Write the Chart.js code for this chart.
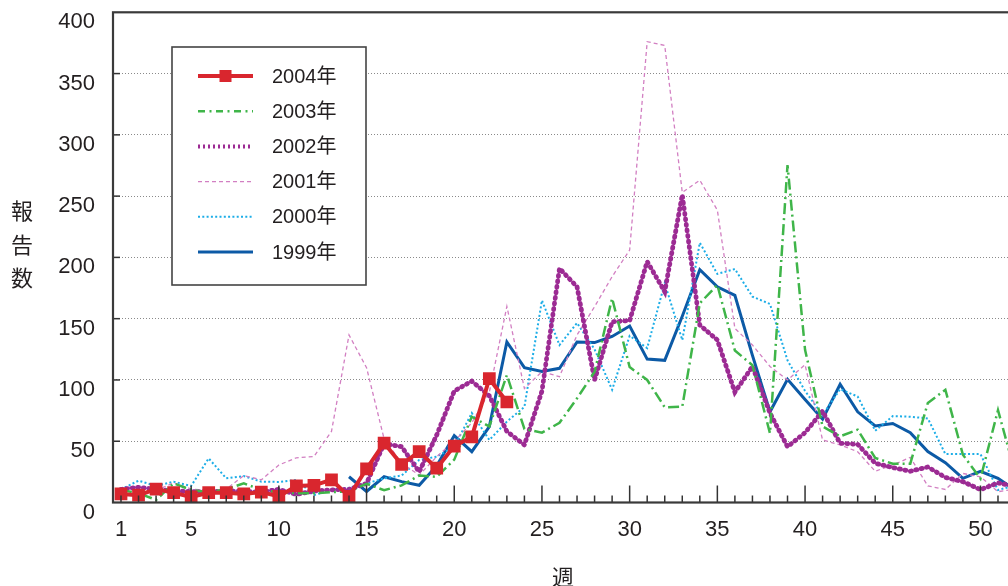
<!DOCTYPE html>
<html>
<head>
<meta charset="utf-8">
<script src="https://cdn.jsdelivr.net/npm/chart.js@4.4.1/dist/chart.umd.min.js"></script>
<style>
  html, body { margin: 0; padding: 0; background: #fff; overflow: hidden; }
  #marco { position: relative; width: 1008px; height: 586px; overflow: hidden; }
  #grafico { position: absolute; left: 0; top: 0; }
</style>
</head>
<body>
<div id="marco"><canvas id="grafico" width="1040" height="586"></canvas></div>
<script>
const semanas = [1,2,3,4,5,6,7,8,9,10,11,12,13,14,15,16,17,18,19,20,21,22,23,24,25,26,
                 27,28,29,30,31,32,33,34,35,36,37,38,39,40,41,42,43,44,45,46,47,48,49,50,51,52];
const ticksX = [1,5,10,15,20,25,30,35,40,45,50];
const ticksY = [0,50,100,150,200,250,300,350,400];
const anios = ['2004年','2003年','2002年','2001年','2000年','1999年'];

const v2004 = [7,6,11,8,4.5,8,8,7,8.5,5,13.5,14,18.5,5,27.5,48.5,31,41.5,28,46,53.5,101,82];
const v2003 = [10.3,7.6,2.1,15.6,10.3,8.2,10.9,15.6,10.3,8.2,7.6,7.6,8.4,9,15.3,10,14,22,21,35,
               70,62,104,60,57,65,85,106.6,166.6,110.5,100,77.7,78.2,162.6,177.5,124,112,56.5,275.4,124.6,
               62,54,59.4,36.3,31.7,31.7,81.2,92,39,19.5,75.4,23];
const v2002 = [10.7,12.4,10.7,9.4,9,8.5,9.6,9,8.5,10.7,6.6,9.4,10.3,10.7,15.6,48,45.5,25,55,91,
               99,87,58,47,91,191,176,100,147.5,148.4,196.6,172,251,144.8,132.6,90,111,73,45.5,57,
               74.5,48.3,47.5,32,28.5,25.5,29,20.5,17,10.5,16,13];
const v2001 = [11.6,13,9.8,16,11,10,10.8,22,18.5,30.6,36.5,37.5,58,136.7,110,52,32,22.4,37.4,50,
               65,90,160,93,106.8,102.7,136.7,159.8,184.3,206,376,373,253,263,238.6,142,128.5,111,100,112.4,
               51,47,41.4,25.5,30.6,36.8,13.5,10.6,23.7,21,8.8,11];
const v2000 = [10.7,17.8,13.5,17,13.5,36,19.7,21.6,17,16.8,18.4,6,10.3,12,15.6,19.7,22,34.7,37.4,45.5,
               73,51,66,78,165,128.5,146.5,125,92,136,126,179,132.5,212,186.5,190.5,168,162,116,91,
               71.4,92.5,86.5,58.6,70.5,70,68.6,39.5,39.5,39.5,10.2,14];
const v1999 = [null,null,null,null,null,null,null,null,null,null,null,null,null,
               21,9,21,17,14,30,54.5,41.5,62,131,110,107,109.5,131,130.5,135.5,144,117,116,152,190,176,169,
               120,74,100.5,84,68,96.5,74,62.5,64.5,57,41.5,32.5,19.7,25.5,19.7,10];

const colores = ['#d9262e', '#3fb549', '#9c2b93', '#d27fc2', '#1cade7', '#0c5aa6'];
const grosores = [4, 2.5, 4.8, 1.3, 2, 3];
const guiones = [[], [11,4,2,4], [1,4.6], [4,3], [2,2.3], []];
const remates = ['butt', 'butt', 'round', 'butt', 'butt', 'butt'];
const guionesLeyenda = [[], [7,4.5,2,4.5], [2,3], [4,3], [2,2.3], []];
const series = [v2004, v2003, v2002, v2001, v2000, v1999];

const fuente = "'Liberation Sans', Arial, 'Noto Sans CJK JP', sans-serif";
const fuenteJP = "'Noto Sans CJK JP', sans-serif";
const tinta = '#231f20';

const puntos = serie => serie.map((v, i) => ({x: semanas[i], y: v}));

const datasets = series.map((serie, i) => ({
  label: anios[i],
  data: puntos(serie),
  borderColor: colores[i],
  backgroundColor: colores[i],
  borderWidth: grosores[i],
  borderDash: guiones[i],
  borderCapStyle: remates[i],
  pointRadius: i === 0 ? 9 : 0,
  pointStyle: 'rect',
  pointBorderWidth: 0,
  tension: 0,
  spanGaps: false
}));

function linea(ctx, x1, y1, x2, y2) {
  ctx.beginPath();
  ctx.moveTo(x1, y1);
  ctx.lineTo(x2, y2);
  ctx.stroke();
}

// marcas hacia adentro, borde y titulos
const decoracion = {
  id: 'decoracion',
  afterDatasetsDraw(chart) {
    const {ctx, chartArea: a, scales: {x, y}} = chart;
    ctx.save();
    ctx.strokeStyle = '#333';
    ctx.lineWidth = 1.5;
    ticksY.forEach(v => {
      if (v === 0 || v === 400) return;
      const py = y.getPixelForValue(v);
      linea(ctx, a.left, py, a.left + 7, py);
    });
    semanas.forEach(w => {
      const px = x.getPixelForValue(w);
      const largo = w % 5 === 0 ? 17 : 7;
      linea(ctx, px, a.bottom, px, a.bottom - largo);
    });
    ctx.lineWidth = 2.2;
    ctx.strokeStyle = '#3a3a3a';
    ctx.strokeRect(a.left, a.top, a.right - a.left, a.bottom - a.top);

    ctx.fillStyle = tinta;
    ctx.font = '22px ' + fuenteJP;
    ctx.textAlign = 'center';
    ctx.textBaseline = 'middle';
    ['報', '告', '数'].forEach((c, i) => ctx.fillText(c, 22, 211 + i * 33.5));
    ctx.fillText('週', 563, 577);
    ctx.restore();
  },
  afterDraw(chart) {
    const ctx = chart.ctx;
    ctx.save();
    ctx.fillStyle = '#fff';
    ctx.fillRect(172, 47, 194, 238);
    ctx.strokeStyle = '#444';
    ctx.lineWidth = 1.6;
    ctx.strokeRect(172, 47, 194, 238);
    anios.forEach((t, i) => {
      const fy = 76 + i * 35.2;
      ctx.strokeStyle = colores[i];
      ctx.lineWidth = Math.min(grosores[i], 4);
      ctx.setLineDash(guionesLeyenda[i]);
      linea(ctx, 198, fy, 253, fy);
      ctx.setLineDash([]);
      if (i === 0) {
        ctx.fillStyle = colores[0];
        ctx.fillRect(219.5, fy - 6, 12, 12);
      }
      ctx.fillStyle = tinta;
      ctx.font = '20px ' + fuente;
      ctx.textAlign = 'left';
      ctx.textBaseline = 'middle';
      ctx.fillText(t, 272, fy + 1);
    });
    ctx.restore();
  }
};

const config = {
  type: 'line',
  data: {datasets},
  options: {
    responsive: false,
    animation: false,
    devicePixelRatio: 1,
    layout: {padding: {left: 0, top: 12.3, right: 15.7, bottom: 0}},
    plugins: {legend: {display: false}, tooltip: {enabled: false}},
    scales: {
      x: {
        type: 'linear',
        min: 0.544,
        max: 52.5,
        afterBuildTicks: s => { s.ticks = ticksX.map(v => ({value: v})); },
        afterFit: s => { s.height = 83.5; s.paddingLeft = 0; s.paddingRight = 0; },
        grid: {display: false, drawTicks: false},
        border: {display: false},
        ticks: {color: tinta, font: {family: fuente, size: 22}, padding: 14, maxRotation: 0, autoSkip: false}
      },
      y: {
        min: 0,
        max: 400,
        afterBuildTicks: s => { s.ticks = ticksY.map(v => ({value: v})); },
        afterFit: s => { s.width = 113; s.paddingTop = 0; s.paddingBottom = 0; },
        grid: {
          drawTicks: false,
          color: c => (c.tick.value === 0 || c.tick.value === 400) ? 'rgba(0,0,0,0)' : '#8a8a8a',
          lineWidth: 1
        },
        // en v4 el guion de la grilla va en border.dash
        border: {display: false, dash: [1, 2]},
        ticks: {color: tinta, font: {family: fuente, size: 22}, padding: 18, labelOffset: 10}
      }
    }
  },
  plugins: [decoracion]
};

const lienzo = document.querySelector('#grafico');
const grafica = new Chart(lienzo, config);
</script>
</body>
</html>
